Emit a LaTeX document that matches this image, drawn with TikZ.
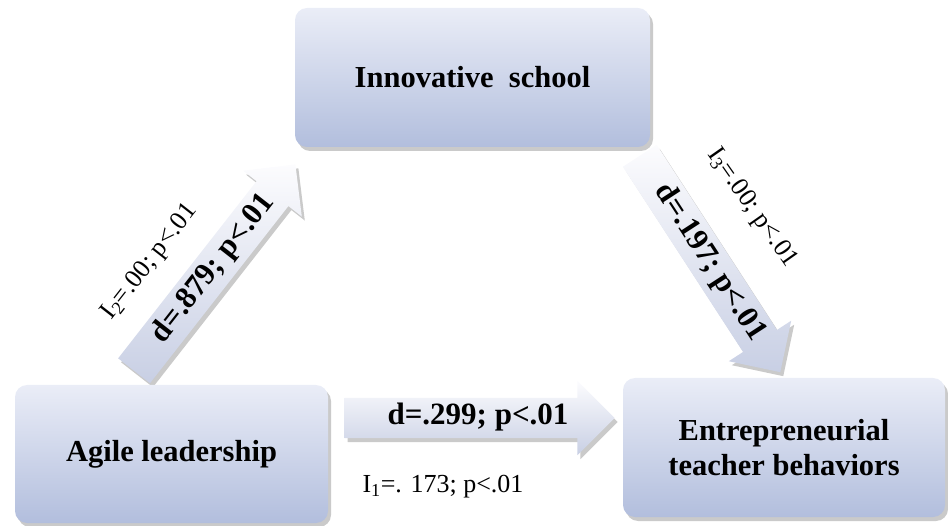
\documentclass[tikz,border=0pt]{standalone}
\usepackage{fontspec}
\setmainfont{Liberation Serif}
\usetikzlibrary{shapes.arrows,shadows}
\definecolor{boxtop}{RGB}{234,237,247}
\definecolor{boxbot}{RGB}{178,190,221}
\definecolor{arrtop}{RGB}{252,252,254}
\definecolor{arrbot}{RGB}{200,207,228}
\begin{document}
\begin{tikzpicture}[x=1pt,y=1pt,
  boxshadow/.style={drop shadow={shadow xshift=3pt,shadow yshift=-4pt,opacity=0.35,fill=black!60}},
  box/.style={rectangle,rounded corners=12pt,top color=boxtop,bottom color=boxbot,
    boxshadow,align=center,inner sep=0pt,
    font=\fontsize{30.5}{35}\selectfont\bfseries},
  blockarrow/.style={single arrow,single arrow head extend=17pt,
    inner xsep=4pt,inner ysep=5pt,text height=22pt,text depth=8pt,
    top color=arrtop,bottom color=arrbot,boxshadow,
    font=\fontsize{31}{35}\selectfont\bfseries},
  lab/.style={inner sep=0pt,font=\fontsize{26}{30}\selectfont}
  ]
\useasboundingbox (0,0) rectangle (948,525);
% block arrows (drawn first, behind boxes)
\node[blockarrow,minimum height=262pt,rotate=52] (a2) at (208.5,249.5) {\hspace*{17pt}d=.879; p<.01};
\node[blockarrow,minimum height=258pt,rotate=-57] (a3) at (704.5,269.5) {\hspace*{17pt}d=.197; p<.01};
\node[blockarrow,minimum height=270pt] (a1) at (469.5,107) {\hspace*{17pt}d=.299; p<.01};
% boxes
\node[box,minimum width=355pt,minimum height=139pt] (inn) at (472.5,447.5) {Innovative\ \ school};
\node[box,minimum width=313pt,minimum height=138pt] (agi) at (171.5,71) {Agile leadership};
\node[box,minimum width=322pt,minimum height=139pt] (ent) at (784,77.5) {Entrepreneurial\\teacher behaviors};
% labels
\node[lab] (l1) at (443,38) {I\textsubscript{1}=. 173; p<.01};
\node[lab,rotate=52] (l2) at (150,263) {I\textsubscript{2}=.00; p<.01};
\node[lab,rotate=-55] (l3) at (752,317) {I\textsubscript{3}=.00; p<.01};
\end{tikzpicture}
\end{document}
